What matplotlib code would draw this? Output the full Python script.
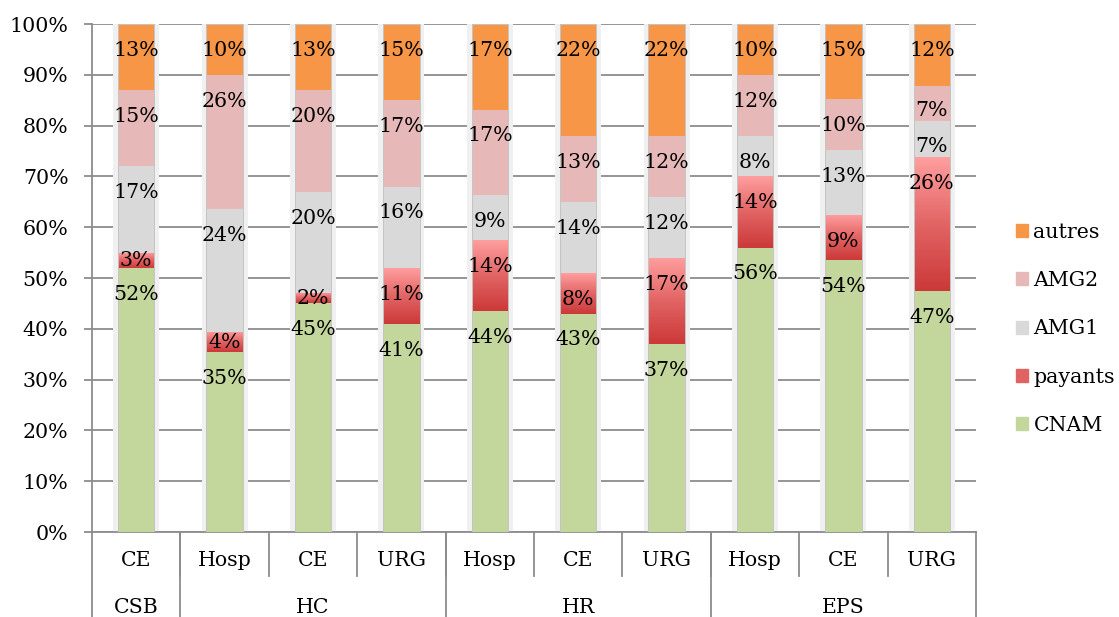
import numpy as np
import matplotlib
matplotlib.use("Agg")
import matplotlib.pyplot as plt
from matplotlib.colors import LinearSegmentedColormap
from matplotlib.patches import Patch

plt.rcParams['font.family'] = ['DejaVu Serif']

groups = ["CSB", "HC", "HR", "EPS"]
group_sizes = [1, 3, 3, 3]
sub_labels = ["CE", "Hosp", "CE", "URG", "Hosp", "CE", "URG", "Hosp", "CE", "URG"]

series = ["CNAM", "payants", "AMG1", "AMG2", "autres"]
cnam    = [52, 35, 45, 41, 44, 43, 37, 56, 54, 47]
payants = [3, 4, 2, 11, 14, 8, 17, 14, 9, 26]
amg1    = [17, 24, 20, 16, 9, 14, 12, 8, 13, 7]
amg2    = [15, 26, 20, 17, 17, 13, 12, 12, 10, 7]
autres  = [13, 10, 13, 15, 17, 22, 22, 10, 15, 12]

colors = {"CNAM": "#c3d69b", "payants": "#e06262", "AMG1": "#d9d9d9",
          "AMG2": "#e6b9b8", "autres": "#f79646"}

data = np.array([cnam, payants, amg1, amg2, autres], dtype=float)
shares = data / data.sum(axis=0) * 100

fig = plt.figure(figsize=(11.19, 6.17), dpi=100)
ax = fig.add_axes([92 / 1119, 85 / 617, 884 / 1119, 508 / 617])
fs = 14.8

x = np.arange(len(sub_labels))
bw = 0.41
grad_cmap = LinearSegmentedColormap.from_list(
    "pay", [(0, "#cc3939"), (0.5, "#e26464"), (1, "#ff9e9e")])
grad = np.linspace(1, 0, 100).reshape(-1, 1)

# soft shadow behind each bar
ax.bar(x, 100.6, width=bw + 0.11, color="#f0f0f0", zorder=2)

bottom = np.zeros(len(x))
for i, name in enumerate(series):
    h = shares[i]
    if name == "payants":
        for xi, b, hh in zip(x, bottom, h):
            ax.imshow(grad, extent=[xi - bw / 2, xi + bw / 2, b, b + hh],
                      aspect="auto", cmap=grad_cmap, vmin=0, vmax=1, zorder=3)
    else:
        ax.bar(x, h, bw, bottom=bottom, color=colors[name], zorder=3)
    top = bottom + h
    for xi, t, hh, v in zip(x, top, h, data[i]):
        off = min(5.2, max(hh - 2.2, hh / 2))
        ax.text(xi, t - off, f"{int(v)}%", ha="center", va="center",
                fontsize=fs, zorder=5)
    bottom = top

# thin outline of bars
ax.bar(x, 100, bw, facecolor="none", edgecolor="#c4c4c4", lw=0.7, zorder=4)

ax.set_xlim(-0.5, len(x) - 0.5)
ax.set_ylim(0, 100)
ax.set_yticks(np.arange(0, 101, 10))
ax.set_yticklabels([f"{v}%" for v in range(0, 101, 10)])
ax.yaxis.grid(True, color="#8c8c8c", lw=1.3, zorder=1)
ax.set_axisbelow(True)
ax.tick_params(axis="y", length=6, width=1.3, color="#8c8c8c", pad=11, labelsize=fs)
ax.set_xticks([])
for s in ["top", "right"]:
    ax.spines[s].set_visible(False)
for s in ["left", "bottom"]:
    ax.spines[s].set_color("#8c8c8c")
    ax.spines[s].set_linewidth(1.3)

# two-level category axis
trans = ax.get_xaxis_transform()
row1_y, row2_y = -0.057, -0.148
row1_bot, row2_bot = -0.087, -0.168
for xi, lab in zip(x, sub_labels):
    ax.text(xi, row1_y, lab, ha="center", va="center", fontsize=fs,
            transform=trans)
edges = np.cumsum([0] + group_sizes) - 0.5
for xi in np.arange(0.5, len(x) - 1):
    ax.plot([xi, xi], [0, row1_bot], color="#8c8c8c", lw=1.3,
            transform=trans, clip_on=False)
for e in edges:
    ax.plot([e, e], [0, row2_bot], color="#8c8c8c", lw=1.3,
            transform=trans, clip_on=False)
for g, a, b in zip(groups, edges[:-1], edges[1:]):
    ax.text((a + b) / 2, row2_y, g, ha="center", va="center", fontsize=fs,
            transform=trans)

handles = [Patch(color=colors[n]) for n in reversed(series)]
fig.legend(handles, list(reversed(series)), loc="center left",
           bbox_to_anchor=(1016 / 1119, 0.467), frameon=False, fontsize=fs,
           handlelength=0.6, handleheight=0.6, handletextpad=0.25,
           labelspacing=1.42, borderpad=0, borderaxespad=0)

fig.savefig("out.png", dpi=100)
